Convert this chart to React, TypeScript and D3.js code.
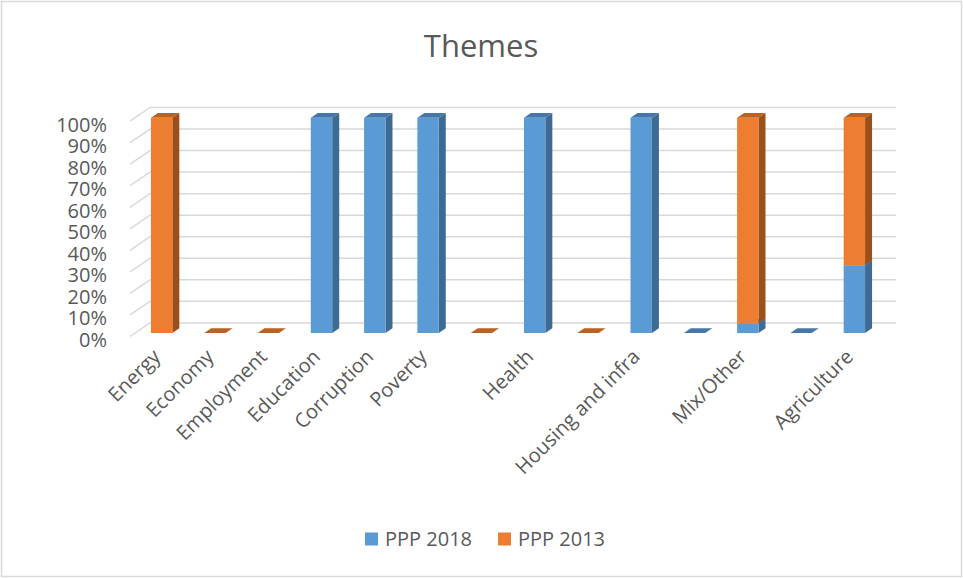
import React, { useEffect } from "react";
import * as d3 from "d3";

const categories = ["Energy", "Economy", "Employment", "Education", "Corruption", "Poverty", "", "Health", "", "Housing and infra", "", "Mix/Other", "", "Agriculture"];
const ppp2018 = [0, 0, 0, 100, 100, 100, 0, 100, 0, 100, 0, 4.5, 0, 31.5];
const ppp2013: (number | null)[] = [100, 0, 0, 0, 0, 0, 0, 0, 0, 0, null, 95.5, null, 68.5];
const seriesNames = ["PPP 2018", "PPP 2013"];
const yTicks = [0, 0.1, 0.2, 0.3, 0.4, 0.5, 0.6, 0.7, 0.8, 0.9, 1];

const W = 963, H = 578;
const FONT = "'Open Sans', 'Noto Sans', sans-serif";
const TXT = "#595959";
const GRID = "#d9d9d9";
const colors = [
  { front: "#5B9BD5", side: "#3E6B94", top: "#4677A8" },
  { front: "#ED7D31", side: "#9C5019", top: "#BB6122" },
];

// 3D depth: full wall depth offset
const DX = 20, DY = 13.6;
const Z0 = 0.25, Z1 = 0.6; // bar depth range

export default function App() {
  useEffect(() => {
    document.body.style.margin = "0";
  }, []);

  const x = d3.scaleBand<number>().domain(d3.range(categories.length)).range([130, 876]).paddingInner(0).paddingOuter(0);
  const y = d3.scaleLinear().domain([0, 1]).range([336.5, 121.1]);
  const P = (xx: number, v: number, z: number): [number, number] => [xx + z * DX, y(v) - z * DY];
  const pts = (a: [number, number][]) => a.map((p) => p.join(",")).join(" ");

  const barHalf = 10.7;

  const rows = categories.map((c, i) => ({ i, a: ppp2018[i] ?? 0, b: ppp2013[i] ?? 0, bNull: ppp2013[i] === null }));
  const stack = d3.stack<any>().keys(["a", "b"]).offset(d3.stackOffsetExpand);
  const stacked = stack(rows as any);

  const bars: React.ReactNode[] = [];
  rows.forEach((r, i) => {
    const cx = (x(i) as number) + x.bandwidth() / 2;
    const xl = cx - barHalf, xr = cx + barHalf;
    const total = r.a + r.b;
    if (total === 0) {
      const c = r.bNull ? colors[0] : colors[1];
      bars.push(
        <polygon key={`flat${i}`} points={pts([P(xl, 0, Z0), P(xr, 0, Z0), P(xr, 0, Z1), P(xl, 0, Z1)])} fill={c.top} />
      );
      return;
    }
    stacked.forEach((s, si) => {
      let v0 = s[i][0], v1 = s[i][1];
      if (!isFinite(v0) || !isFinite(v1) || v1 - v0 <= 0) return;
      const c = colors[si];
      bars.push(
        <g key={`b${i}-${si}`}>
          <polygon points={pts([P(xr, v0, Z0), P(xr, v0, Z1), P(xr, v1, Z1), P(xr, v1, Z0)])} fill={c.side} />
          <polygon points={pts([P(xl, v1, Z0), P(xr, v1, Z0), P(xr, v1, Z1), P(xl, v1, Z1)])} fill={c.top} />
          <polygon points={pts([P(xl, v0, Z0), P(xr, v0, Z0), P(xr, v1, Z0), P(xl, v1, Z0)])} fill={c.front} />
        </g>
      );
    });
  });

  const [gx0] = P(130, 0, 1);
  const [gx1] = P(876, 0, 1);

  return (
    <svg width={W} height={H} style={{ display: "block", background: "#fff" }}>
      <rect x={1.5} y={1.5} width={W - 3} height={H - 3} fill="#fff" stroke={GRID} strokeWidth={1.5} />
      <text x={481} y={57} textAnchor="middle" fontFamily={FONT} fontSize={31} fill={TXT}>Themes</text>
      {yTicks.map((t) => {
        const f = P(130, t, 0);
        const b = P(130, t, 1);
        return (
          <g key={`g${t}`}>
            <line x1={f[0]} y1={f[1]} x2={b[0]} y2={b[1]} stroke={GRID} strokeWidth={1.5} />
            <line x1={gx0} y1={b[1]} x2={gx1} y2={b[1]} stroke={GRID} strokeWidth={1.5} />
            <text x={107} y={f[1] + 3} textAnchor="end" dominantBaseline="central" fontFamily={FONT} fontSize={20} fill={TXT}>
              {d3.format(".0%")(t)}
            </text>
          </g>
        );
      })}
      {bars}
      {categories.map((c, i) => {
        const cx = (x(i) as number) + x.bandwidth() / 2 + 5;
        const ly = 358;
        return (
          <text key={`c${i}`} x={cx} y={ly} textAnchor="end" fontFamily={FONT} fontSize={20} fill={TXT} transform={`rotate(-45 ${cx} ${ly})`}>
            {c}
          </text>
        );
      })}
      {seriesNames.map((n, si) => {
        const lx = si === 0 ? 365 : 498;
        return (
          <g key={`l${si}`}>
            <rect x={lx} y={532.5} width={13} height={13} fill={colors[si].front} />
            <text x={lx + 20} y={546} fontFamily={FONT} fontSize={20} fill={TXT}>{n}</text>
          </g>
        );
      })}
    </svg>
  );
}
